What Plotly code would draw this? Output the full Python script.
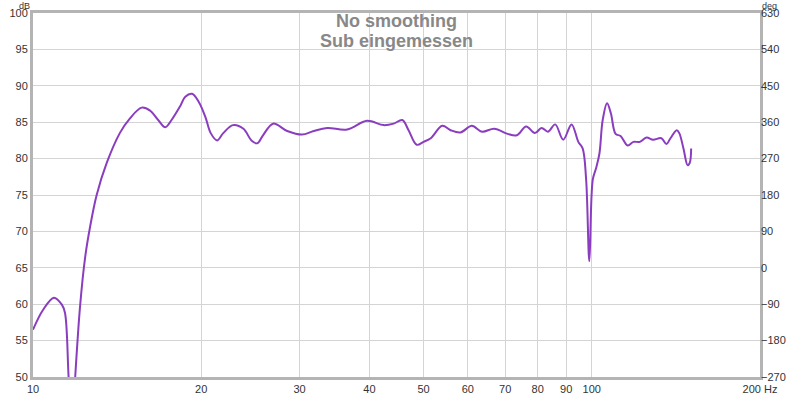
import plotly.graph_objects as go

freq_hz = [10.0, 10.42, 10.9, 11.27, 11.41, 11.58, 11.74, 11.9, 12.14, 12.4, 12.65, 13.0, 13.55,
           14.3, 14.9, 15.65, 16.2, 16.75, 17.25, 17.7, 18.34, 18.73, 19.26, 19.79, 20.35,
           20.8, 21.35, 21.9, 22.8, 23.8, 24.6, 25.2, 25.8, 26.9, 28.5, 30.3, 31.8, 33.6,
           36.5, 39.6, 42.4, 44.2, 45.8, 47.0, 48.6, 50.0, 51.5, 54.0, 55.9, 58.2, 61.0,
           63.6, 66.9, 70.7, 73.4, 76.3, 79.1, 81.3, 83.5, 86.0, 88.9, 92.0, 94.6, 96.3,
           97.7, 99.0, 100.4, 101.8, 103.2, 104.6, 106.5, 108.2, 110.3, 112.6, 115.9, 118.7,
           121.9, 125.3, 128.7, 133.2, 136.0, 138.3, 141.9, 143.4, 145.9, 148.4, 149.7, 150.6]
spl_db = [56.5, 59.2, 60.9, 59.9, 58.8, 50.0, 42.0, 50.0, 59.7, 66.5, 70.6, 75.0, 79.4,
          83.5, 85.5, 87.0, 86.6, 85.3, 84.3, 85.3, 87.2, 88.5, 88.9, 87.8, 85.7,
          83.5, 82.5, 83.5, 84.6, 84.1, 82.5, 82.1, 83.2, 84.8, 83.8, 83.3, 83.8, 84.2,
          84.0, 85.2, 84.6, 84.8, 85.3, 83.9, 81.9, 82.3, 82.8, 84.5, 83.9, 83.6, 84.5,
          83.7, 84.1, 83.4, 83.2, 84.4, 83.5, 84.2, 83.7, 84.7, 82.6, 84.7, 82.3, 81.4,
          77.1, 65.9, 77.1, 78.7, 80.7, 85.3, 87.6, 86.2, 83.4, 83.1, 81.8, 82.3,
          82.3, 82.9, 82.6, 82.8, 82.0, 82.8, 83.9, 83.5, 81.4, 79.1, 79.4, 81.4]

x_ticks = [10, 20, 30, 40, 50, 60, 70, 80, 90, 100, 200]
x_tick_text = ["10", "20", "30", "40", "50", "60", "70", "80", "90", "100", "200 Hz"]
db_ticks = [50, 55, 60, 65, 70, 75, 80, 85, 90, 95, 100]
deg_ticks = [-270, -180, -90, 0, 90, 180, 270, 360, 450, 540, 630]
title_lines = ["No smoothing", "Sub eingemessen"]

FONT = "Liberation Sans, Arial, sans-serif"
GRID = "#d4d4d4"
FRAME = "#b4b4b4"
TXT = "#333333"

fig = go.Figure()
fig.add_trace(go.Scatter(
    x=freq_hz, y=spl_db, mode="lines",
    line=dict(color="#8A3DBF", width=2, shape="spline", smoothing=1.0),
    hoverinfo="skip", showlegend=False))
# empty trace so the right-hand (phase) axis is drawn
fig.add_trace(go.Scatter(x=[], y=[], yaxis="y2", mode="lines",
                         hoverinfo="skip", showlegend=False))

fig.update_layout(
    width=800, height=394,
    margin=dict(l=33, r=40, t=13, b=17, autoexpand=False),
    paper_bgcolor="white", plot_bgcolor="white",
    font=dict(family=FONT, size=11, color=TXT),
    xaxis=dict(type="log", range=[1, 2.30103], tickvals=x_ticks, ticktext=x_tick_text,
               showgrid=True, gridcolor=GRID, gridwidth=1, zeroline=False,
               showline=True, linecolor=FRAME, linewidth=3, mirror=True,
               ticks="", automargin=False, tickfont=dict(size=11, color=TXT)),
    yaxis=dict(range=[50, 100], tickvals=db_ticks, showgrid=True, gridcolor=GRID,
               gridwidth=1, zeroline=False, showline=True, linecolor=FRAME,
               linewidth=3, mirror=True, ticks="", automargin=False,
               tickfont=dict(size=11, color=TXT)),
    yaxis2=dict(range=[-270, 630], tickvals=deg_ticks, overlaying="y", side="right",
                showgrid=False, zeroline=False, showline=False, ticks="",
                automargin=False, tickfont=dict(size=11, color=TXT)),
)

plot_h = 394 - 13 - 17
def py(y_px):
    return 1 - (y_px - 13) / plot_h

fig.add_annotation(text="<b>" + title_lines[0] + "</b>", x=0.5, y=py(21), xref="paper", yref="paper",
                   yanchor="middle", showarrow=False, font=dict(family=FONT, size=18, color="#888888"))
fig.add_annotation(text="<b>" + title_lines[1] + "</b>", x=0.5, y=py(41), xref="paper", yref="paper",
                   yanchor="middle", showarrow=False, font=dict(family=FONT, size=18, color="#888888"))
fig.add_annotation(text="dB", x=-0.012, y=py(0), xref="paper", yref="paper", xanchor="center",
                   yanchor="top", borderpad=0, showarrow=False, font=dict(family=FONT, size=9, color=TXT))
fig.add_annotation(text="deg", x=1.002, y=py(0), xref="paper", yref="paper", xanchor="left",
                   yanchor="top", borderpad=0, showarrow=False, font=dict(family=FONT, size=9, color=TXT))

fig.write_html("out.html", config={"displayModeBar": False},
               post_script="document.body.style.margin='0';document.body.style.overflow='hidden';")
